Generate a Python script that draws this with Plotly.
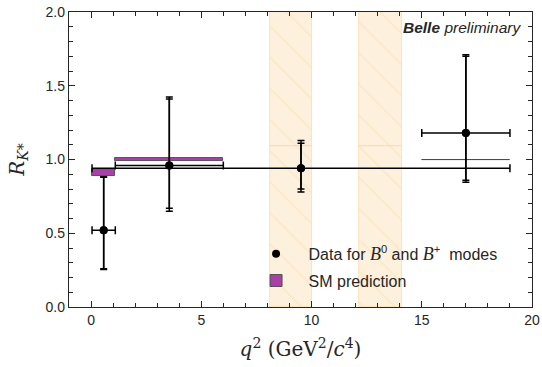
import plotly.graph_objects as go

# ---- data ----
bin_lo = [0.045, 1.1, 0.045, 15.0]
bin_hi = [1.1, 6.0, 19.0, 19.0]
rk = [0.52, 0.96, 0.94, 1.18]
stat_up = [0.36, 0.45, 0.17, 0.52]
stat_dn = [0.26, 0.29, 0.14, 0.32]
tot_up = [0.363, 0.463, 0.188, 0.530]
tot_dn = [0.265, 0.310, 0.161, 0.335]

sm_lo = [0.045, 1.1, 15.0]
sm_hi = [1.1, 6.0, 19.0]
sm_val = [0.91, 0.998, 0.998]
sm_err = [0.024, 0.01, 0.001]

veto_lo = [8.1, 12.15]
veto_hi = [10.0, 14.1]
veto_split = 1.09
y_max = 2.0

INK = "#262626"
MAG = "#a93fa9"

fig = go.Figure()

# vetoed q^2 regions (hatched bands)
for lo, hi in zip(veto_lo, veto_hi):
    for base, top in [(0.0, veto_split), (veto_split, y_max)]:
        fig.add_trace(go.Bar(
            x=[(lo + hi) / 2], y=[top - base], base=[base], width=[hi - lo],
            marker=dict(color="#fdf0dc",
                        line=dict(color="rgba(250,205,140,0.6)", width=0.8),
                        pattern=dict(shape="\\", fgcolor="#fbdcae", size=22,
                                     solidity=0.06, fillmode="overlay")),
            showlegend=False, hoverinfo="skip"))

# SM prediction boxes
fig.add_trace(go.Bar(
    x=[(a + b) / 2 for a, b in zip(sm_lo, sm_hi)],
    y=[2 * e for e in sm_err],
    base=[v - e for v, e in zip(sm_val, sm_err)],
    width=[b - a for a, b in zip(sm_lo, sm_hi)],
    marker=dict(color=MAG, line=dict(color="#4a4a4a", width=0.9)),
    name="SM prediction", legendgroup="b", legendrank=2))

xc = [(a + b) / 2 for a, b in zip(bin_lo, bin_hi)]
xp = [b - c for b, c in zip(bin_hi, xc)]
xm = [c - a for a, c in zip(bin_lo, xc)]

B = "<i><span style='font-family:Liberation Serif;font-size:18px'>B</span></i>"

# total errors
fig.add_trace(go.Scatter(
    x=xc, y=rk, mode="markers",
    marker=dict(color="black", size=8),
    error_y=dict(type="data", symmetric=False, array=tot_up, arrayminus=tot_dn,
                 color="black", thickness=1.5, width=3.5),
    error_x=dict(type="data", symmetric=False, array=xp, arrayminus=xm,
                 color="black", thickness=1.5, width=4),
    name="Data for " + B + "<sup>0</sup> and " + B + "<sup>+</sup>  modes",
    legendgroup="a", legendrank=1))
# statistical errors
fig.add_trace(go.Scatter(
    x=xc, y=rk, mode="markers",
    marker=dict(color="black", size=8),
    error_y=dict(type="data", symmetric=False, array=stat_up, arrayminus=stat_dn,
                 color="black", thickness=1.5, width=3.5),
    showlegend=False, hoverinfo="skip"))

axis_common = dict(
    showline=True, linecolor=INK, linewidth=1.3, mirror="ticks",
    ticks="inside", ticklen=6, tickwidth=1.1, tickcolor=INK,
    showgrid=False, zeroline=False, automargin=False,
    tickfont=dict(family="Liberation Sans", size=14, color=INK),
)

fig.update_xaxes(
    range=[-1, 20], dtick=5, tick0=0,
    minor=dict(dtick=1, ticks="inside", ticklen=3.5, tickcolor=INK, tickwidth=1),
    title=dict(text="<i>q</i><sup>2</sup> (GeV<sup>2</sup>/<i>c</i><sup>4</sup>)",
               font=dict(family="DejaVu Serif", size=20, color=INK)),
    **axis_common)
fig.update_yaxes(
    range=[0, 2], dtick=0.5, tick0=0, tickformat=".1f",
    minor=dict(dtick=0.1, ticks="inside", ticklen=3.5, tickcolor=INK, tickwidth=1),
    title=dict(text="<i>R</i><sub><i>K</i>*</sub>",
               font=dict(family="DejaVu Serif", size=20, color=INK)),
    **axis_common)

fig.add_annotation(
    x=1, y=1, xref="paper", yref="paper", xanchor="right", yanchor="top",
    xshift=-9, yshift=-5, showarrow=False,
    text="<b><i>Belle</i></b> <i>preliminary</i>",
    font=dict(family="Liberation Sans", size=15.5, color=INK))

fig.update_layout(
    width=542, height=367,
    margin=dict(l=69, r=10, t=12, b=60),
    paper_bgcolor="white", plot_bgcolor="white",
    barmode="overlay", bargap=0,
    showlegend=True,
    legend=dict(x=0.377, y=0.238, xanchor="left", yanchor="top",
                bgcolor="rgba(0,0,0,0)", traceorder="grouped", tracegroupgap=3,
                font=dict(family="Liberation Sans", size=16, color=INK),
                itemwidth=55),
)

fig.write_html("out.html",
               config={"displayModeBar": False},
               post_script="document.body.style.margin='0';document.body.style.overflow='hidden';")
